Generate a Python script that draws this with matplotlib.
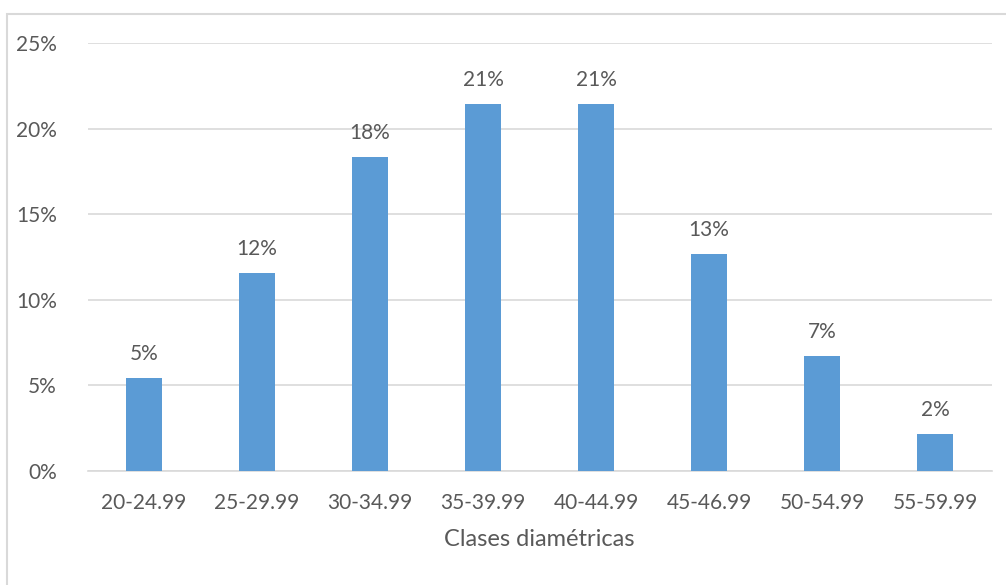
import matplotlib.pyplot as plt
from matplotlib.patches import Rectangle
from matplotlib.ticker import FuncFormatter

# Distribución por clases diamétricas
clases = ['20-24.99', '25-29.99', '30-34.99', '35-39.99',
          '40-44.99', '45-46.99', '50-54.99', '55-59.99']
porcentaje = [0.0543, 0.1157, 0.1834, 0.2146, 0.2146, 0.1268, 0.0672, 0.0216]

gris = '#595959'
plt.rcParams['font.family'] = ['Lato', 'DejaVu Sans']

fig = plt.figure(figsize=(10.06, 5.85), dpi=100)
ax = fig.add_axes([87.5 / 1006, 1 - 471 / 585, 904 / 1006, 428 / 585])

x = range(len(clases))
ax.bar(x, porcentaje, width=0.315, color='#5B9BD5', zorder=3)

for xi, v in zip(x, porcentaje):
    ax.annotate(f'{v:.0%}', (xi, v), xytext=(0, 13), textcoords='offset points',
                ha='center', va='baseline', fontsize=15, color=gris)

ax.set_xlim(-0.5, len(clases) - 0.5)
ax.set_ylim(0, 0.25)
ax.set_yticks([0, 0.05, 0.10, 0.15, 0.20, 0.25])
ax.yaxis.set_major_formatter(FuncFormatter(lambda y, _: f'{y:.0%}'))
ax.set_xticks(list(x))
ax.set_xticklabels(clases)
ax.tick_params(axis='both', length=0, labelsize=15, colors=gris)
ax.tick_params(axis='y', pad=22)
ax.tick_params(axis='x', pad=16)

ax.grid(axis='y', color='#D9D9D9', linewidth=1.2, zorder=0)
for s in ['top', 'right', 'left']:
    ax.spines[s].set_visible(False)
ax.spines['bottom'].set_color('#D9D9D9')
ax.spines['bottom'].set_linewidth(1.2)

ax.set_xlabel('Clases diamétricas', fontsize=17, color=gris, labelpad=11)

# marco del gráfico
fig.patches.append(Rectangle((7 / 1006, -0.05), 1.1, 1 - 14 / 585 + 0.05,
                             transform=fig.transFigure, fill=False,
                             edgecolor='#D9D9D9', linewidth=1.5))

plt.savefig('out.png', dpi=100)
